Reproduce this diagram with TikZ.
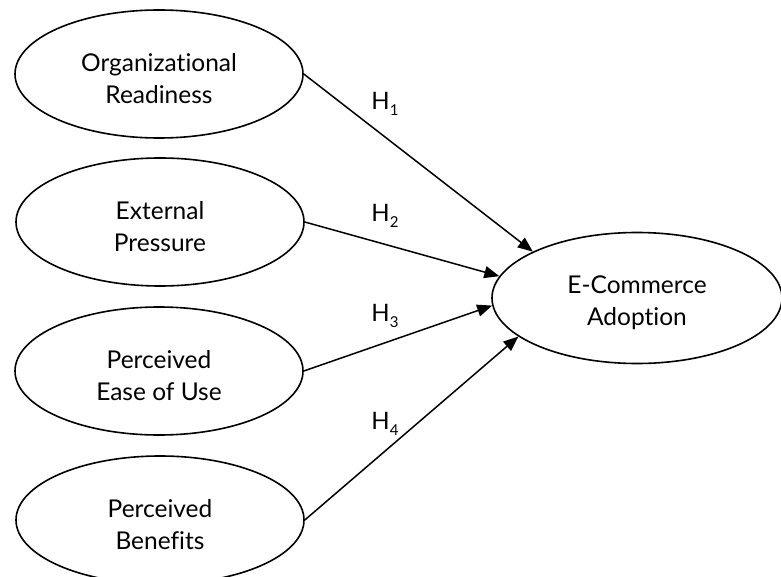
\documentclass[tikz,border=0pt]{standalone}
\usepackage{fontspec}
\setmainfont[Ligatures={NoCommon}]{Lato}
\usetikzlibrary{shapes.geometric,arrows.meta}
\newcommand{\hsub}[1]{H\raisebox{-0.45ex}{\fontsize{15}{15}\selectfont #1}}
\newcommand{\lowr}{\rule{0pt}{27pt}}
\begin{document}
\begin{tikzpicture}[x=1pt,y=-1pt,
  construct/.style={ellipse,draw,line width=1.6pt,inner sep=0pt,
    minimum width=288pt,minimum height=128pt,align=center,
    font=\fontsize{24.5}{32}\selectfont},
  path/.style={line width=1.5pt,-{Triangle[length=15pt,width=12pt]}},
  hlab/.style={font=\fontsize{24}{28}\selectfont}]
\useasboundingbox (0,0) rectangle (781,577);
\node[construct] (or) at (159,74) {\lowr Organizational\\Readiness};
\node[construct] (ep) at (160,222) {\lowr External\\Pressure};
\node[construct] (pe) at (159,371) {\lowr Perceived\\Ease of Use};
\node[construct] (pb) at (160,520) {\lowr Perceived\\Benefits};
\node[construct,minimum width=290pt,minimum height=131pt] (ec) at (637,298) {\lowr E-Commerce\\Adoption};
\draw[path] (or.east) -- (ec.156);
\draw[path] (ep.east) -- (ec.171.5);
\draw[path] (pe.east) -- (ec.183.6);
\draw[path] (pb.east) -- (ec.198.4);
\node[hlab] (h1) at (385,104) {\hsub{1}};
\node[hlab] (h2) at (385,216) {\hsub{2}};
\node[hlab] (h3) at (385,316) {\hsub{3}};
\node[hlab] (h4) at (385,424) {\hsub{4}};
\end{tikzpicture}
\end{document}
